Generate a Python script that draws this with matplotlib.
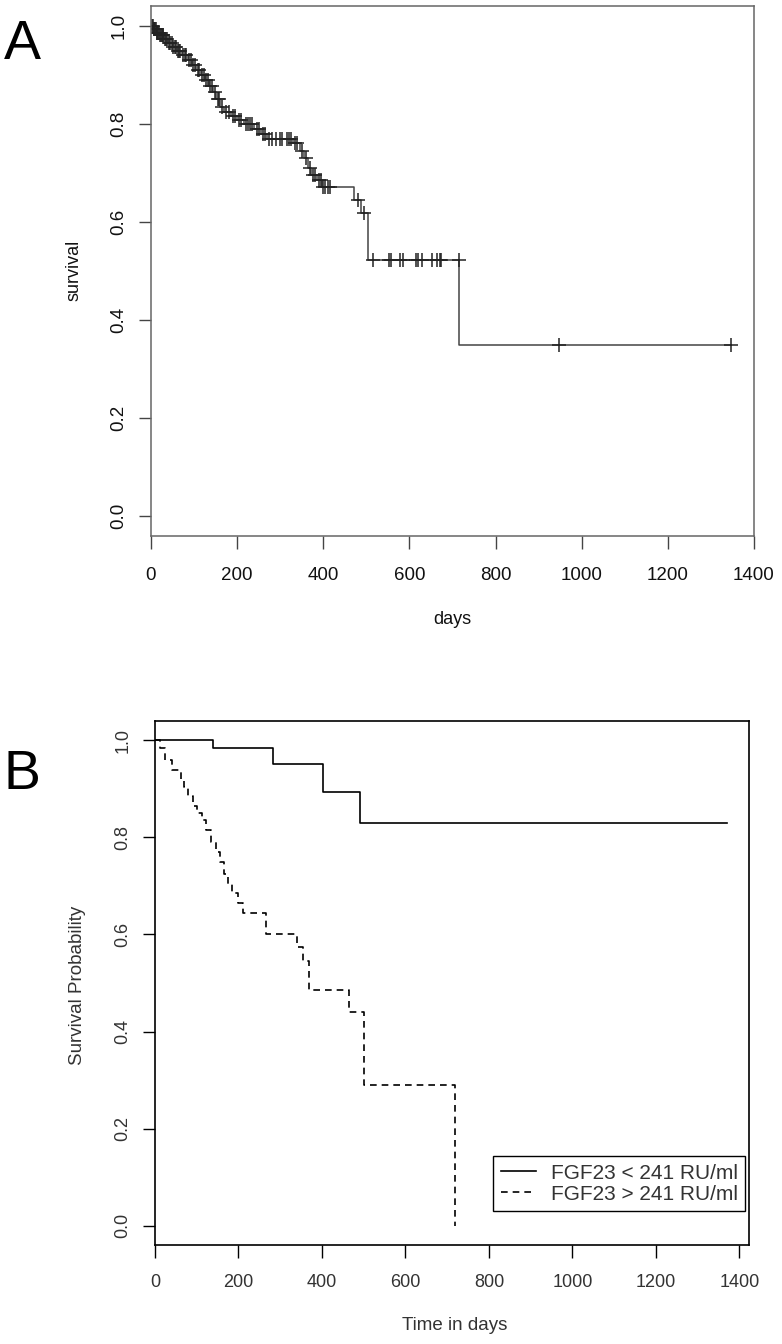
import numpy as np
import matplotlib.pyplot as plt

plt.rcParams['font.family'] = ['Liberation Sans', 'DejaVu Sans']

# panel A: overall Kaplan-Meier estimate (event times, survival after each event)
a_event_days = [5, 12, 20, 30, 40, 50, 60, 72, 85, 95, 105, 115, 125, 135, 145,
                150, 160, 170, 185, 200, 215, 240, 255, 270, 330, 345, 355, 365,
                372, 385, 398, 472, 488, 503, 716]
a_event_surv = [0.993, 0.986, 0.98, 0.972, 0.965, 0.957, 0.948, 0.94, 0.93, 0.92,
                0.91, 0.90, 0.89, 0.878, 0.865, 0.85, 0.835, 0.825, 0.815, 0.808,
                0.80, 0.79, 0.78, 0.77, 0.76, 0.745, 0.73, 0.71, 0.695, 0.685,
                0.671, 0.645, 0.618, 0.522, 0.349]
a_censor_days = [2, 4, 6, 8, 10, 11, 13, 15, 16, 18, 21, 23, 25, 27, 29, 32, 35, 38,
                 42, 45, 48, 52, 55, 58, 62, 65, 68, 75, 78, 82, 88, 92, 98, 102,
                 108, 112, 118, 122, 128, 132, 138, 142, 148, 155, 158, 165, 175,
                 180, 190, 195, 205, 210, 220, 225, 230, 235, 245, 250, 260, 265,
                 275, 280, 290, 300, 305, 315, 320, 325, 335, 340, 350, 360, 368,
                 375, 380, 390, 395, 400, 405, 410, 415, 480, 495, 516, 553, 557,
                 578, 586, 616, 620, 630, 653, 665, 670, 674, 715, 948, 1347]

# panel B: by FGF23 group
low_days = [0, 140, 283, 403, 491, 1371]
low_surv = [1.0, 0.985, 0.952, 0.894, 0.830, 0.830]
high_days = [0, 12, 25, 40, 62, 70, 78, 90, 100, 112, 122, 135, 145, 155, 165, 175,
             185, 200, 210, 265, 340, 355, 370, 465, 500, 718]
high_surv = [1.0, 0.985, 0.96, 0.94, 0.92, 0.905, 0.885, 0.865, 0.85, 0.835, 0.815,
             0.79, 0.77, 0.75, 0.725, 0.705, 0.685, 0.665, 0.645, 0.60, 0.575,
             0.545, 0.485, 0.44, 0.29, 0.0]
group_labels = ['FGF23 < 241 RU/ml', 'FGF23 > 241 RU/ml']

yticks = [0.0, 0.2, 0.4, 0.6, 0.8, 1.0]
xticks = [0, 200, 400, 600, 800, 1000, 1200, 1400]

fig = plt.figure(figsize=(7.82, 13.44), dpi=100)
W, H = 782, 1344

# ---------- panel A ----------
axA = fig.add_axes([151 / W, 1 - 536 / H, 603 / W, 530 / H])
gA = '#444444'
a_t = np.concatenate([[0], a_event_days, [1347]])
a_s = np.concatenate([[1.0], a_event_surv, [a_event_surv[-1]]])
axA.step(a_t, a_s, where='post', color=gA, lw=1.1)
idx = np.searchsorted(a_event_days, a_censor_days, side='right')
cens_s = np.array([1.0] + a_event_surv)[idx]
axA.plot(a_censor_days, cens_s, ls='none', marker='+', ms=10, mew=1.1, color='#222222')
axA.set_xlim(0, 1400)
axA.set_ylim(-0.04, 1.04)
axA.set_xticks(xticks)
axA.set_yticks(yticks)
axA.set_yticklabels(['%.1f' % v for v in yticks], rotation=90, va='center')
axA.tick_params(length=9, width=1, color=gA, labelsize=13.5, labelcolor='#111111')
axA.tick_params(axis='x', pad=13)
axA.tick_params(axis='y', pad=8)
for sp in axA.spines.values():
    sp.set_color('#666666')
    sp.set_linewidth(1.1)
fig.text(74 / W, 1 - 270 / H, 'survival', rotation=90, ha='center', va='center',
         fontsize=13, color='#111111')
fig.text(452 / W, 1 - 620 / H, 'days', ha='center', va='center', fontsize=13,
         color='#111111')
fig.text(22 / W, 1 - 45 / H, 'A', ha='center', va='center', fontsize=40)

# ---------- panel B ----------
axB = fig.add_axes([155 / W, 1 - 1245 / H, 594 / W, 524 / H])
axB.step(low_days, low_surv, where='post', color='black', lw=1.2, label=group_labels[0])
axB.step(high_days, high_surv, where='post', color='black', lw=1.2,
         ls=(0, (4, 3)), label=group_labels[1])
axB.set_xlim(0, 1423)
axB.set_ylim(-0.04, 1.04)
axB.set_xticks(xticks)
axB.set_yticks(yticks)
axB.set_yticklabels(['%.1f' % v for v in yticks], rotation=90, va='center')
axB.tick_params(length=9, width=1, labelsize=13, labelcolor='#333333')
axB.tick_params(axis='x', pad=12)
axB.tick_params(axis='y', pad=8)
for sp in axB.spines.values():
    sp.set_linewidth(1.2)
fig.text(78 / W, 1 - 985 / H, 'Survival Probability', rotation=90, ha='center',
         va='center', fontsize=13.5, color='#333333')
fig.text(455 / W, 1 - 1326 / H, 'Time in days', ha='center', va='center',
         fontsize=13.5, color='#333333')
fig.text(22 / W, 1 - 775 / H, 'B', ha='center', va='center', fontsize=40)
leg = axB.legend(loc='lower right', bbox_to_anchor=(0.993, 0.065), borderaxespad=0,
                 fancybox=False, edgecolor='black', framealpha=1, fontsize=15,
                 handlelength=1.7, handletextpad=0.7, labelspacing=0.1,
                 borderpad=0.35)
leg.get_frame().set_linewidth(1.0)
for t in leg.get_texts():
    t.set_color('#333333')

fig.savefig('out.png', dpi=100)
